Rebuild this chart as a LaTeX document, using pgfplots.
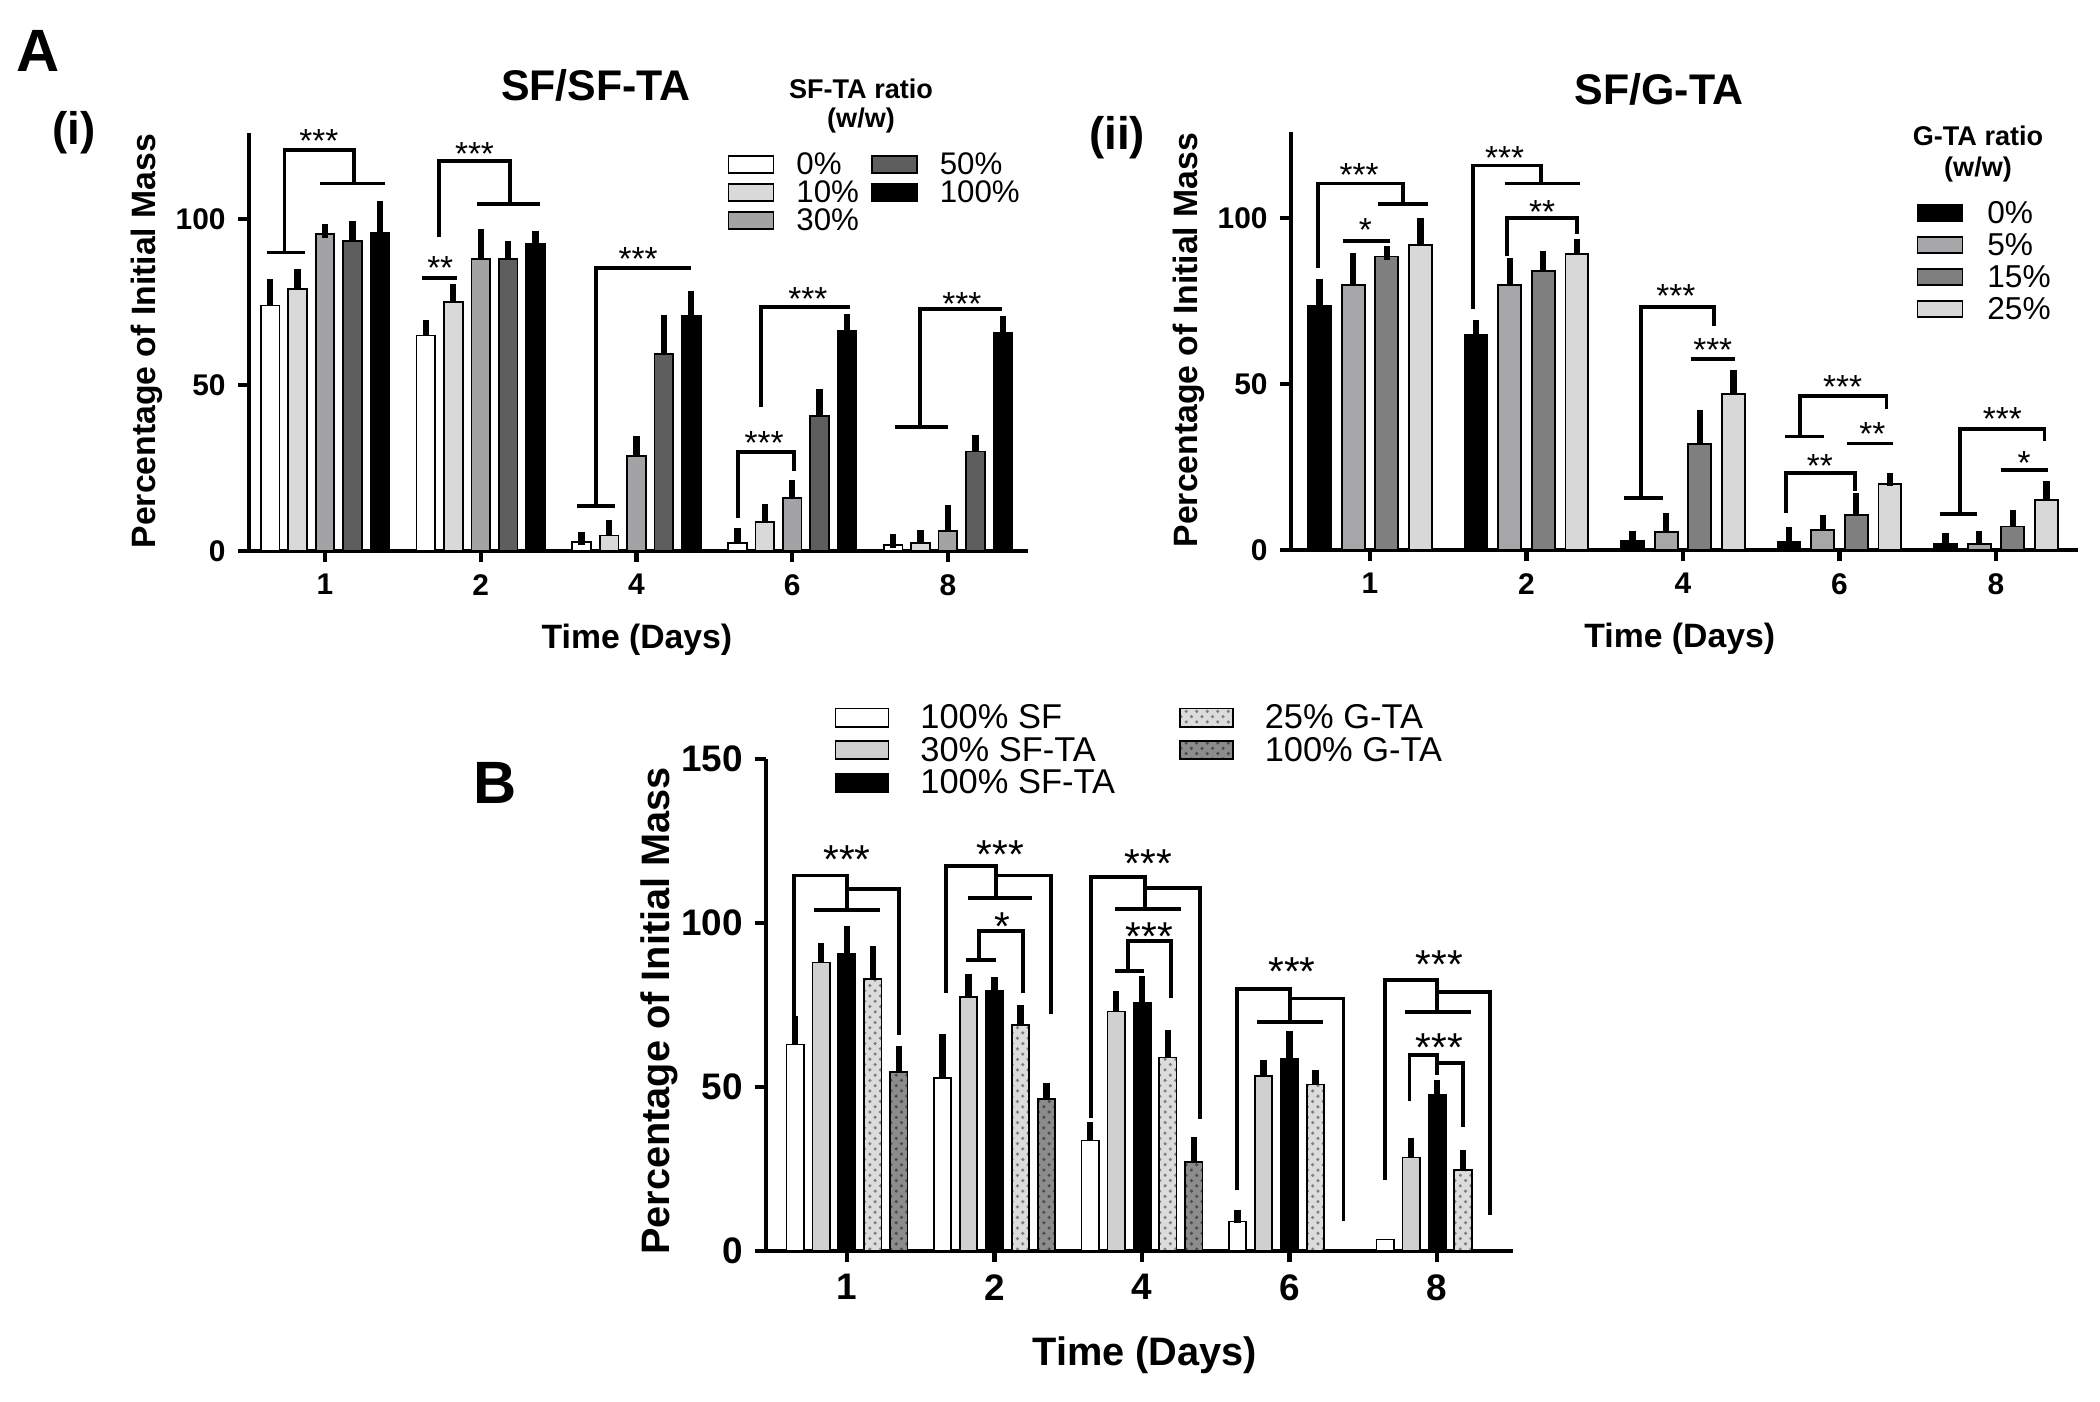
\documentclass[border=0pt]{standalone}
\usepackage{fontspec}
\setmainfont{Liberation Sans}
\usepackage{pgfplots}
\pgfplotsset{compat=1.18}
\usetikzlibrary{patterns}
\definecolor{aTen}{HTML}{D9D9D9}
\definecolor{aThirty}{HTML}{A3A3A6}
\definecolor{aFifty}{HTML}{5E5E5E}
\definecolor{bFive}{HTML}{A6A6A8}
\definecolor{bFifteen}{HTML}{7F7F7F}
\definecolor{bTwentyFive}{HTML}{D8D8D8}
\definecolor{cThirty}{HTML}{D0D0D0}
\definecolor{cGl}{HTML}{DCDCDC}
\definecolor{cGd}{HTML}{8C8C8C}
\pgfplotsset{
  base/.style={
    scale only axis, clip=false, anchor=south west,
    axis x line=bottom, axis y line=left,
    axis line style={-, line width=1.2pt},
    major tick style={line width=1.2pt, black},
    tick align=outside, major tick length=1.1mm,
    ymin=0,
    xtick={0,1,2,3,4}, xticklabels={1,2,4,6,8},
    /pgf/number format/assume math mode=true,
    legend cell align=left,
  },
  eb/.style={ybar, bar width=#1, bar shift=0, draw=black, line width=0.5pt,
    error bars/y dir=plus, error bars/y explicit,
    error bars/error bar style={line width=1.8pt, black, solid},
    error bars/error mark options={line width=1.8pt, mark size=1.9pt, black, solid}},
}
\tikzset{
  brk/.style={line width=1.1pt, black},
  starA/.style={anchor=base, yshift=-1.9mm, inner sep=0pt, font=\fontsize{9.5}{10}\selectfont},
  starB/.style={anchor=base, yshift=-2.3mm, inner sep=0pt, font=\fontsize{11.5}{12}\selectfont},
}
\newcommand{\stA}[3]{\node[starA] at (axis cs:#1,#2) {#3};}
\newcommand{\stB}[3]{\node[starB] at (axis cs:#1,#2) {#3};}
\begin{document}
\begin{tikzpicture}
\useasboundingbox (0,0) rectangle (210mm,-140.2mm);
% ---------------- A(i)
\begin{axis}[base, at={(24.9mm,-55.1mm)}, width=77.9mm, height=41.8mm,
  xmin=-0.488, xmax=4.514, ymax=126, ytick={0,50,100},
  tick label style={font=\fontsize{8.5}{10}\selectfont\bfseries},
  xlabel={Time (Days)}, ylabel={Percentage of Initial Mass},
  label style={font=\fontsize{9.6}{11}\selectfont\bfseries},
  xlabel style={at={(axis description cs:0.498,-0.213)}, anchor=center},
  ylabel style={at={(axis description cs:-0.131,0.502)}, anchor=center},
  legend image code/.code={\draw[#1] (0mm,-0.85mm) rectangle (4.5mm,0.85mm); \path (6.5mm,0);},
  legend style={draw=none, fill=none, inner sep=0pt, at={(axis description cs:0.6136,0.962)}, anchor=north west,
    legend columns=2, font=\fontsize{8.9}{10}\selectfont, row sep=-0.2mm,
    nodes={inner sep=0.2mm, text height=2.3mm, text depth=0.3mm},
    /tikz/every even column/.append style={column sep=1.0mm}},
]
\addlegendimage{fill=white, draw=black, line width=0.5pt}\addlegendentry{0\%}
\addlegendimage{fill=aFifty, draw=black, line width=0.5pt}\addlegendentry{50\%}
\addlegendimage{fill=aTen, draw=black, line width=0.5pt}\addlegendentry{10\%}
\addlegendimage{fill=black, draw=black, line width=0.5pt}\addlegendentry{100\%}
\addlegendimage{fill=aThirty, draw=black, line width=0.5pt}\addlegendentry{30\%}
\addplot[eb=0.12, fill=white, forget plot] coordinates {(-0.352,74)+-(0,6) (0.648,65)+-(0,2.5) (1.648,2.7)+-(0,1) (2.648,2.4)+-(0,2.5) (3.648,1.7)+-(0,1.3)};
\addplot[eb=0.12, fill=aTen, forget plot] coordinates {(-0.176,79)+-(0,4) (0.824,75)+-(0,3.5) (1.824,4.7)+-(0,2.7) (2.824,8.7)+-(0,3.5) (3.824,2.4)+-(0,2)};
\addplot[eb=0.12, fill=aThirty, forget plot] coordinates {(0,95.5)+-(0,1) (1,88)+-(0,7) (2,28.6)+-(0,4) (3,16)+-(0,3.5) (4,6)+-(0,6)};
\addplot[eb=0.12, fill=aFifty, forget plot] coordinates {(0.176,93.5)+-(0,4) (1.176,88)+-(0,3.5) (2.176,59.5)+-(0,9.5) (3.176,40.7)+-(0,6) (4.176,30)+-(0,3)};
\addplot[eb=0.12, fill=black, forget plot] coordinates {(0.352,96)+-(0,7.5) (1.352,92.5)+-(0,2) (2.352,71)+-(0,5.5) (3.352,66.4)+-(0,3) (4.352,65.8)+-(0,3)};
% brackets
\draw[brk] (-0.37,90) -- (-0.13,90);
\draw[brk] (-0.26,90) -- (-0.26,121) -- (0.185,121) -- (0.185,110.8);
\draw[brk] (-0.03,110.8) -- (0.385,110.8);
\stA{-0.04}{126}{***}
\draw[brk] (0.62,82.3) -- (0.85,82.3);
\stA{0.74}{87.6}{**}
\draw[brk] (0.73,94.6) -- (0.73,117.5) -- (1.19,117.5) -- (1.19,104.5);
\draw[brk] (0.975,104.5) -- (1.38,104.5);
\stA{0.96}{122}{***}
\draw[brk] (1.62,13.6) -- (1.86,13.6);
\draw[brk] (1.74,13.6) -- (1.74,85.2) -- (2.35,85.2);
\stA{2.01}{90.4}{***}
\draw[brk] (2.65,10) -- (2.65,29.8) -- (3.01,29.8) -- (3.01,24);
\stA{2.82}{34.9}{***}
\draw[brk] (2.80,43.4) -- (2.80,73.5) -- (3.37,73.5);
\stA{3.10}{78.3}{***}
\draw[brk] (3.66,37.3) -- (4.0,37.3);
\draw[brk] (3.82,37.3) -- (3.82,72.9) -- (4.35,72.9);
\stA{4.09}{76.8}{***}
\end{axis}
% ---------------- A(ii)
\begin{axis}[base, at={(129.1mm,-55.0mm)}, width=78.7mm, height=41.8mm,
  xmin=-0.505, xmax=4.524, ymax=126, ytick={0,50,100},
  tick label style={font=\fontsize{8.5}{10}\selectfont\bfseries},
  xlabel={Time (Days)}, ylabel={Percentage of Initial Mass},
  label style={font=\fontsize{9.6}{11}\selectfont\bfseries},
  xlabel style={at={(axis description cs:0.494,-0.213)}, anchor=center},
  ylabel style={at={(axis description cs:-0.13,0.502)}, anchor=center},
  legend image code/.code={\draw[#1] (0mm,-0.8mm) rectangle (4.5mm,0.8mm); \path (6.7mm,0);},
  legend style={draw=none, fill=none, inner sep=0pt, at={(axis description cs:0.794,0.843)}, anchor=north west,
    legend columns=1, font=\fontsize{9}{10}\selectfont, row sep=0.2mm,
    nodes={inner sep=0.2mm, text height=2.3mm, text depth=0.3mm}},
]
\addlegendimage{fill=black, draw=black, line width=0.5pt}\addlegendentry{0\%}
\addlegendimage{fill=bFive, draw=black, line width=0.5pt}\addlegendentry{5\%}
\addlegendimage{fill=bFifteen, draw=black, line width=0.5pt}\addlegendentry{15\%}
\addlegendimage{fill=bTwentyFive, draw=black, line width=0.5pt}\addlegendentry{25\%}
\addplot[eb=0.146, fill=black, forget plot] coordinates {(-0.322,73.7)+-(0,6) (0.678,65)+-(0,2.3) (1.678,2.7)+-(0,1.1) (2.678,2.4)+-(0,2.4) (3.678,1.7)+-(0,1.4)};
\addplot[eb=0.146, fill=bFive, forget plot] coordinates {(-0.107,80)+-(0,7.5) (0.893,80)+-(0,6) (1.893,5.4)+-(0,3.7) (2.893,6)+-(0,2.4) (3.893,1.9)+-(0,1.7)};
\addplot[eb=0.146, fill=bFifteen, forget plot] coordinates {(0.107,88.5)+-(0,1) (1.107,84)+-(0,4) (2.107,31.9)+-(0,8.3) (3.107,10.5)+-(0,4.6) (4.107,7.1)+-(0,3)};
\addplot[eb=0.146, fill=bTwentyFive, forget plot] coordinates {(0.322,92)+-(0,6) (1.322,89.3)+-(0,2.5) (2.322,47)+-(0,5.3) (3.322,19.8)+-(0,1.4) (4.322,15.1)+-(0,3.7)};
\draw[brk] (-0.17,93.1) -- (0.13,93.1);
\stA{-0.03}{98.8}{*}
\draw[brk] (-0.33,85) -- (-0.33,110.5) -- (0.21,110.5) -- (0.21,104.2);
\draw[brk] (0.05,104.2) -- (0.37,104.2);
\stA{-0.07}{115.3}{***}
\draw[brk] (0.66,72.7) -- (0.66,115.9) -- (1.09,115.9) -- (1.09,110.5);
\draw[brk] (0.86,110.5) -- (1.34,110.5);
\stA{0.86}{120.4}{***}
\draw[brk] (0.875,88.6) -- (0.875,100) -- (1.32,100) -- (1.32,95.2);
\stA{1.10}{104.2}{**}
\draw[brk] (1.62,15.6) -- (1.87,15.6);
\draw[brk] (1.73,15.6) -- (1.73,73.3) -- (2.20,73.3) -- (2.20,67.6);
\stA{1.955}{78.7}{***}
\draw[brk] (2.05,57.6) -- (2.33,57.6);
\stA{2.19}{62.5}{***}
\draw[brk] (2.65,34.2) -- (2.90,34.2);
\draw[brk] (2.66,11.1) -- (2.66,23.1) -- (3.10,23.1) -- (3.10,17.7);
\stA{2.875}{27.7}{**}
\draw[brk] (2.75,34.2) -- (2.75,46.5) -- (3.30,46.5) -- (3.30,42.6);
\stA{3.02}{51.4}{***}
\draw[brk] (3.05,32.1) -- (3.34,32.1);
\stA{3.21}{37.2}{**}
\draw[brk] (3.64,10.8) -- (3.88,10.8);
\draw[brk] (3.77,10.8) -- (3.77,36.6) -- (4.31,36.6) -- (4.31,33);
\stA{4.04}{41.7}{***}
\draw[brk] (4.03,24) -- (4.33,24);
\stA{4.18}{28.5}{*}
\end{axis}
% ---------------- B
\begin{axis}[base, at={(76.6mm,-125.1mm)}, width=74.7mm, height=49.2mm,
  xmin=-0.549, xmax=4.515, ymax=150, ytick={0,50,100,150},
  tick label style={font=\fontsize{10.5}{12}\selectfont\bfseries},
  xlabel={Time (Days)}, ylabel={Percentage of Initial Mass},
  label style={font=\fontsize{11.3}{13}\selectfont\bfseries},
  xlabel style={at={(axis description cs:0.507,-0.211)}, anchor=center},
  ylabel style={at={(axis description cs:-0.143,0.488)}, anchor=center},
  legend image code/.code={\draw[#1] (0mm,-0.92mm) rectangle (5.3mm,0.92mm); \path (8.2mm,0);},
  legend style={draw=none, fill=none, inner sep=0pt, at={(axis description cs:0.091,1.118)}, anchor=north west,
    legend columns=2, font=\fontsize{9.8}{11}\selectfont, row sep=0.05mm,
    nodes={inner sep=0.2mm, text height=2.5mm, text depth=0.3mm},
    /tikz/every even column/.append style={column sep=6.2mm}},
]
\addlegendimage{fill=white, draw=black, line width=0.5pt}\addlegendentry{100\% SF}
\addlegendimage{fill=cGl, draw=black, line width=0.5pt, postaction={pattern=crosshatch dots, pattern color=gray}}\addlegendentry{25\% G-TA}
\addlegendimage{fill=cThirty, draw=black, line width=0.5pt}\addlegendentry{30\% SF-TA}
\addlegendimage{fill=cGd, draw=black, line width=0.5pt, postaction={pattern=crosshatch dots, pattern color=black!70}}\addlegendentry{100\% G-TA}
\addlegendimage{fill=black, draw=black, line width=0.5pt}\addlegendentry{100\% SF-TA}
\addplot[eb=0.117, fill=white, forget plot] coordinates {(-0.352,63)+-(0,6.5) (0.648,52.7)+-(0,11.5) (1.648,33.7)+-(0,3.5) (2.648,9)+-(0,1.5)};
\addplot[ybar, bar width=0.117, bar shift=0, draw=black, line width=0.5pt, fill=white, forget plot] coordinates {(3.648,3.5)};
\addplot[eb=0.117, fill=cThirty, forget plot] coordinates {(-0.176,88)+-(0,4) (0.824,77.5)+-(0,5) (1.824,73)+-(0,4.2) (2.824,53.4)+-(0,2.8) (3.824,28.5)+-(0,4)};
\addplot[eb=0.117, fill=black, forget plot] coordinates {(0,90.6)+-(0,6.6) (1,79.4)+-(0,2) (2,75.8)+-(0,6) (3,58.7)+-(0,6.3) (4,47.5)+-(0,2.5)};
\addplot[eb=0.117, fill=cGl, postaction={pattern=crosshatch dots, pattern color=gray}, forget plot] coordinates {(0.176,83)+-(0,8) (1.176,68.8)+-(0,4.2) (2.176,59)+-(0,6.2) (3.176,50.8)+-(0,2.3) (4.176,24.6)+-(0,4.2)};
\addplot[eb=0.117, fill=cGd, postaction={pattern=crosshatch dots, pattern color=black!70}, forget plot] coordinates {(0.352,54.5)+-(0,6) (1.352,46.3)+-(0,3) (2.352,27.1)+-(0,5.5)};
\draw[brk] (-0.358,70.2) -- (-0.358,114.5) -- (0,114.5) -- (0,103.9);
\draw[brk] (-0.222,103.9) -- (0.222,103.9);
\draw[brk] (0,110.5) -- (0.35,110.5) -- (0.35,66);
\stB{0}{122.2}{***}
\draw[brk] (0.673,78.7) -- (0.673,117.3) -- (1.012,117.3) -- (1.012,107.7);
\draw[brk] (0.817,107.7) -- (1.253,107.7);
\draw[brk] (1.012,114.5) -- (1.381,114.5) -- (1.381,72.3);
\stB{1.039}{123.6}{***}
\draw[brk] (0.809,88.8) -- (1.012,88.8);
\draw[brk] (0.895,88.8) -- (0.895,97.6) -- (1.195,97.6) -- (1.195,78.7);
\stB{1.05}{101.8}{*}
\draw[brk] (1.654,40.7) -- (1.654,114) -- (2.023,114) -- (2.023,104.4);
\draw[brk] (1.817,104.4) -- (2.265,104.4);
\draw[brk] (2.023,110.7) -- (2.393,110.7) -- (2.393,40.4);
\stB{2.043}{120.8}{***}
\draw[brk] (1.817,85.4) -- (2.016,85.4);
\draw[brk] (1.907,85.4) -- (1.907,94.5) -- (2.198,94.5) -- (2.198,77.2);
\stB{2.05}{98.7}{***}
\draw[brk] (2.646,18.5) -- (2.646,79.8) -- (3.004,79.8) -- (3.004,69.9);
\draw[brk] (2.782,69.9) -- (3.23,69.9);
\draw[brk] (3.004,77) -- (3.366,77) -- (3.366,9.1);
\stB{3.016}{88.1}{***}
\draw[brk] (3.65,21.8) -- (3.65,82.6) -- (4.0,82.6) -- (4.0,73);
\draw[brk] (3.786,73) -- (4.23,73);
\draw[brk] (4.0,79.1) -- (4.358,79.1) -- (4.358,11);
\stB{4.016}{90.2}{***}
\draw[brk] (3.813,45.6) -- (3.813,59.7) -- (4.0,59.7) -- (4.0,53.7);
\draw[brk] (4.0,57.3) -- (4.175,57.3) -- (4.175,37.9);
\stB{4.016}{64.9}{***}
\end{axis}
% ---------------- free text
\begin{scope}[x=0.1mm,y=-0.1mm]
\node[font=\fontsize{17}{18}\selectfont\bfseries] at (38,51) {A};
\node[font=\fontsize{12.2}{14}\selectfont\bfseries] at (596,85) {SF/SF-TA};
\node[font=\fontsize{13}{14}\selectfont\bfseries] at (74,133) {(i)};
\node[font=\fontsize{12.2}{14}\selectfont\bfseries] at (1659,89) {SF/G-TA};
\node[font=\fontsize{13}{14}\selectfont\bfseries] at (1117,138) {(ii)};
\node[font=\fontsize{7.7}{9}\selectfont\bfseries] at (861,89) {SF-TA ratio};
\node[font=\fontsize{7.7}{9}\selectfont\bfseries] at (861,120) {(w/w)};
\node[font=\fontsize{7.7}{9}\selectfont\bfseries] at (1978,136) {G-TA ratio};
\node[font=\fontsize{7.7}{9}\selectfont\bfseries] at (1978,169) {(w/w)};
\node[font=\fontsize{17}{18}\selectfont\bfseries] at (495,783) {B};
\end{scope}
\end{tikzpicture}
\end{document}
